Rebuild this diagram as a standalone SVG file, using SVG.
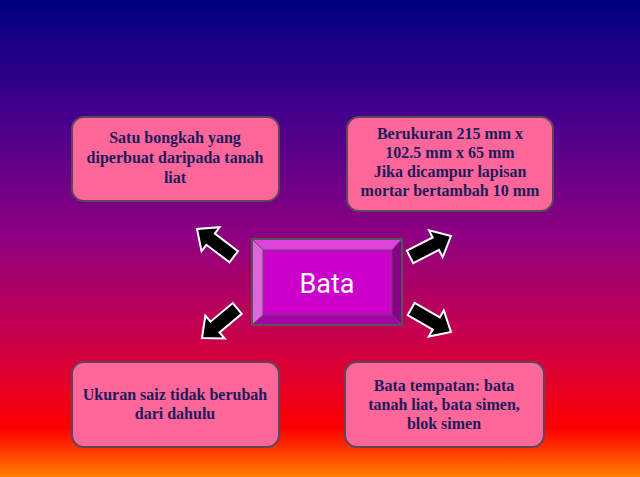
<svg xmlns="http://www.w3.org/2000/svg" width="640" height="477" viewBox="0 0 640 477">
<defs>
<linearGradient id="bg" x1="0" y1="0" x2="0" y2="1">
<stop offset="0" stop-color="#000080"/>
<stop offset="0.25" stop-color="#48008c"/>
<stop offset="0.5" stop-color="#900080"/>
<stop offset="0.72" stop-color="#cc0048"/>
<stop offset="0.9" stop-color="#ff0000"/>
<stop offset="1" stop-color="#ff8000"/>
</linearGradient>
<path id="arr" d="M0,0 L-17,-15 L-17,-7 L-46,-7 L-46,7 L-17,7 L-17,15 Z"/>
</defs>
<style>
.box{fill:#ff6699;stroke:#5a4858;stroke-width:2}
.t{font-family:"Liberation Serif",serif;font-weight:bold;font-size:16px;fill:#1c1c5c;text-anchor:middle}
.a{fill:#000;stroke:#fff;stroke-width:2;stroke-linejoin:miter}
.e{stroke:#555;stroke-width:1;fill:none}
</style>
<rect width="640" height="477" fill="url(#bg)"/>
<g id="connectors">
<use href="#arr" class="a" transform="translate(197,229) rotate(217)"/>
<use href="#arr" class="a" transform="translate(202,338) rotate(140)"/>
<use href="#arr" class="a" transform="translate(451,236) rotate(-27)"/>
<use href="#arr" class="a" transform="translate(451,332) rotate(30)"/>
</g>
<g id="center">
<rect x="252" y="239" width="150" height="86" fill="#cc00cc"/>
<polygon points="252,239 402,239 392,250 263,250" fill="#dd44dd"/>
<polygon points="252,239 263,250 263,315 252,325" fill="#e066e0"/>
<polygon points="402,239 402,325 392,315 392,250" fill="#880088"/>
<polygon points="252,325 402,325 392,315 263,315" fill="#a800a8"/>
<path class="e" d="M252,239 L263,250 L392,250 L402,239 M263,250 L263,315 L392,315 L392,250 M252,325 L263,315 M402,325 L392,315"/>
<rect x="252" y="239" width="150" height="86" fill="none" stroke="#555" stroke-width="2"/>
<text x="327" y="293" font-family="Roboto, 'Open Sans', sans-serif" font-size="27" fill="#fff" text-anchor="middle">Bata</text>
</g>
<g id="box1">
<rect class="box" x="72" y="117" width="207" height="84" rx="12"/>
<text class="t" x="175" y="143">Satu bongkah yang</text>
<text class="t" x="175" y="163">diperbuat daripada tanah</text>
<text class="t" x="175" y="183">liat</text>
</g>
<g id="box2">
<rect class="box" x="347" y="117" width="206" height="94" rx="12"/>
<text class="t" x="450" y="139">Berukuran 215 mm x</text>
<text class="t" x="450" y="158">102.5 mm x 65 mm</text>
<text class="t" x="450" y="177">Jika dicampur lapisan</text>
<text class="t" x="450" y="196">mortar bertambah 10 mm</text>
</g>
<g id="box3">
<rect class="box" x="72" y="362" width="207" height="85" rx="12"/>
<text class="t" x="175" y="400">Ukuran saiz tidak berubah</text>
<text class="t" x="175" y="419">dari dahulu</text>
</g>
<g id="box4">
<rect class="box" x="345" y="362" width="199" height="85" rx="12"/>
<text class="t" x="444" y="391">Bata tempatan: bata</text>
<text class="t" x="444" y="410">tanah liat, bata simen,</text>
<text class="t" x="444" y="429">blok simen</text>
</g>
</svg>
